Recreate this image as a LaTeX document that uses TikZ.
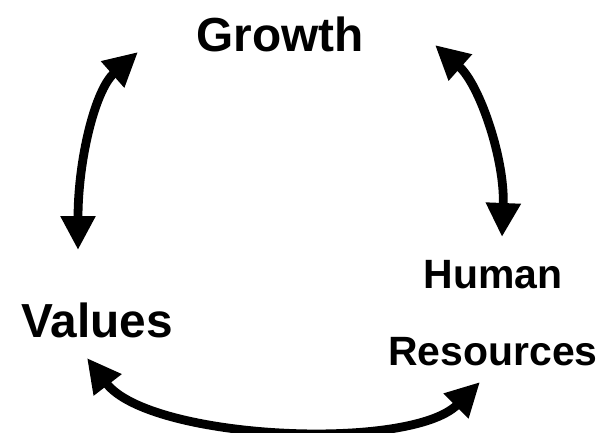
\documentclass[tikz,border=0pt]{standalone}
\usepackage{fontspec}
\setmainfont{Liberation Sans}
\usetikzlibrary{arrows.meta,calc,positioning}

\tikzset{
    topic/.style={font=\bfseries\fontsize{27.2}{30}\selectfont, inner sep=0pt},
    link/.style={line width=5pt, {Triangle[length=0.68cm,width=0.66cm]}-{Triangle[length=0.68cm,width=0.66cm]}}
}

\begin{document}
\begin{tikzpicture}[x=0.02cm, y=-0.02cm]
    \useasboundingbox (0,0) rectangle (603,433);

    % the three topics
    \node[topic, anchor=base] (growth) at (280,51) {Growth};
    \node[topic, anchor=base] (values) at (97,337) {Values};
    \node[topic, align=center, font=\bfseries\fontsize{23.3}{44}\selectfont] (hr) at (493,313) {Human\\Resources};

    % arrow ends
    \coordinate (values-up) at (78,250);
    \coordinate (growth-left) at (138,52);
    \coordinate (growth-right) at (435,45);
    \coordinate (hr-up) at (502,237);
    \coordinate (values-down) at (87,358);
    \coordinate (hr-down) at (480,382);

    % LEFT: Values <-> Growth
    \draw[link] (values-up) .. controls (78,160) and (95,90) .. (growth-left);
    % RIGHT: Growth <-> Human Resources
    \draw[link] (growth-right) .. controls (480,85) and (505,160) .. (hr-up);
    % BOTTOM: Values <-> Human Resources
    \draw[link] (values-down) .. controls (150,440) and (410,452) .. (hr-down);
\end{tikzpicture}
\end{document}
